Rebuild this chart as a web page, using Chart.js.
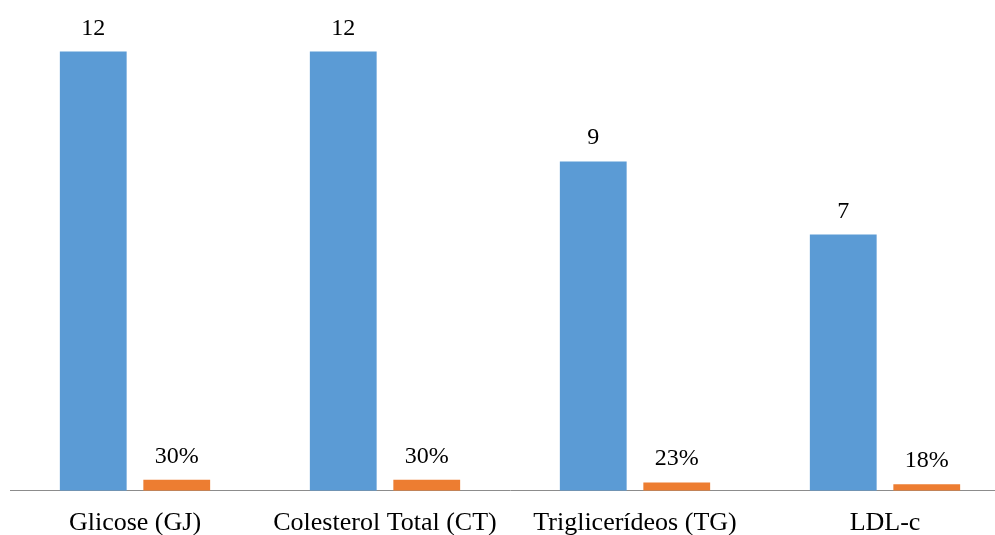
<!DOCTYPE html>
<html>
<head>
<meta charset="utf-8">
<script src="https://cdn.jsdelivr.net/npm/chart.js@4.4.1/dist/chart.umd.min.js"></script>
<style>
  html, body { margin: 0; padding: 0; background: #ffffff; overflow: hidden; }
  #wrap { width: 1020px; height: 553px; }
</style>
</head>
<body>
<div id="wrap"><canvas id="chart" width="1020" height="553"></canvas></div>
<script>
// Exames alterados: número de pacientes e percentual
const categories = ['Glicose (GJ)', 'Colesterol Total (CT)', 'Triglicerídeos (TG)', 'LDL-c'];
const counts = [12, 12, 9, 7];
const shares = [0.30, 0.30, 0.23, 0.18];

const serif = '"Liberation Serif", "Times New Roman", serif';

// Writes each bar's value above it
const valueLabels = {
  id: 'valueLabels',
  afterDatasetsDraw(chart) {
    const ctx = chart.ctx;
    ctx.save();
    ctx.font = '24px ' + serif;
    ctx.fillStyle = '#000000';
    ctx.textAlign = 'center';
    ctx.textBaseline = 'alphabetic';
    chart.data.datasets.forEach((ds, di) => {
      const meta = chart.getDatasetMeta(di);
      meta.data.forEach((bar, i) => {
        const v = ds.data[i];
        const txt = ds.isShare ? Math.round(v * 100) + '%' : String(v);
        ctx.fillText(txt, bar.x, bar.y - 17);
      });
    });
    ctx.restore();
  }
};

new Chart(document.getElementById('chart'), {
  type: 'bar',
  data: {
    labels: categories,
    datasets: [
      { label: 'n', data: counts, backgroundColor: '#5B9BD5', isShare: false },
      { label: '%', data: shares, backgroundColor: '#ED7D31', isShare: true }
    ]
  },
  options: {
    responsive: false,
    animation: false,
    layout: { padding: { top: 15, left: 10, right: 10, bottom: 5 } },
    plugins: { legend: { display: false }, tooltip: { enabled: false } },
    datasets: { bar: { categoryPercentage: 0.668, barPercentage: 0.8 } },
    scales: {
      x: {
        grid: { display: false },
        border: { display: true, color: '#8c8c8c', width: 1 },
        ticks: { color: '#000000', font: { family: serif, size: 26 }, padding: 9, maxRotation: 0, autoSkip: false }
      },
      y: {
        display: false,
        min: 0,
        max: 13
      }
    }
  },
  plugins: [valueLabels]
});
</script>
</body>
</html>
